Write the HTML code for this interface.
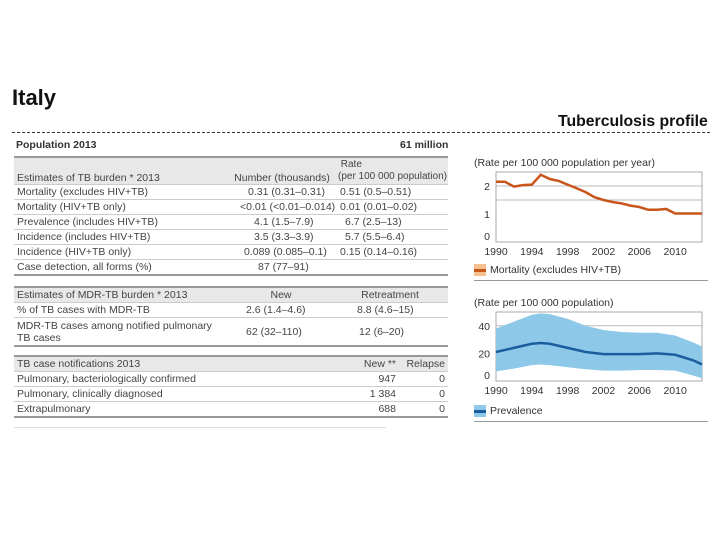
<!DOCTYPE html>
<html><head><meta charset="utf-8"><style>
body{margin:0;width:720px;height:540px;background:#fff;font-family:"Liberation Sans",sans-serif;color:#333;position:relative;overflow:hidden}
.a{position:absolute;white-space:nowrap}
table{position:absolute;border-collapse:collapse;font-size:10.5px;color:#444;table-layout:fixed}
td{padding:0 3px;height:14px;line-height:14px;border-bottom:1px solid #ccc;white-space:nowrap;overflow:visible}
tr.h td{background:#e8e8e8;border-top:2px solid #999}
tr.l td{border-bottom:2px solid #999}
</style></head><body>
<div class="a" style="left:12px;top:85px;font-size:22px;font-weight:bold;color:#111">Italy</div>
<div class="a" style="left:558px;top:113px;font-size:15.8px;font-weight:bold;color:#111">Tuberculosis profile</div>
<div class="a" style="left:12px;top:132px;width:698px;border-top:1px dashed #333"></div>
<div class="a" style="left:16px;top:139px;font-size:10.5px;font-weight:bold">Population 2013</div>
<div class="a" style="left:400px;top:139px;font-size:10.5px;font-weight:bold">61 million</div>

<table style="left:14px;top:156px;width:434px">
<colgroup><col style="width:212px"><col style="width:112px"><col style="width:110px"></colgroup>
<tr class="h"><td style="height:26px;line-height:12px;vertical-align:bottom">Estimates of TB burden * 2013</td><td style="vertical-align:bottom;text-align:center;line-height:12px">Number (thousands)</td><td style="line-height:12px;padding:0;font-size:10px">&nbsp;Rate<br>(per 100 000 population)</td></tr>
<tr><td>Mortality (excludes HIV+TB)</td><td style="padding-left:22px">0.31 (0.31–0.31)</td><td style="padding-left:2px">0.51 (0.5–0.51)</td></tr>
<tr><td>Mortality (HIV+TB only)</td><td style="padding-left:14px">&lt;0.01 (&lt;0.01–0.014)</td><td style="padding-left:2px">0.01 (0.01–0.02)</td></tr>
<tr><td>Prevalence (includes HIV+TB)</td><td style="padding-left:28px">4.1 (1.5–7.9)</td><td style="padding-left:7px">6.7 (2.5–13)</td></tr>
<tr><td>Incidence (includes HIV+TB)</td><td style="padding-left:28px">3.5 (3.3–3.9)</td><td style="padding-left:7px">5.7 (5.5–6.4)</td></tr>
<tr><td>Incidence (HIV+TB only)</td><td style="padding-left:18px">0.089 (0.085–0.1)</td><td style="padding-left:2px">0.15 (0.14–0.16)</td></tr>
<tr class="l"><td>Case detection, all forms (%)</td><td style="padding-left:32px">87 (77–91)</td><td></td></tr>
</table>

<table style="left:14px;top:286px;width:434px">
<colgroup><col style="width:216px"><col style="width:102px"><col style="width:116px"></colgroup>
<tr class="h"><td>Estimates of MDR-TB burden * 2013</td><td style="text-align:center">New</td><td style="text-align:center">Retreatment</td></tr>
<tr><td>% of TB cases with MDR-TB</td><td style="padding-left:16px">2.6 (1.4–4.6)</td><td style="padding-left:25px">8.8 (4.6–15)</td></tr>
<tr class="l"><td style="height:27px;line-height:12px">MDR-TB cases among notified pulmonary<br>TB cases</td><td style="padding-left:16px">62 (32–110)</td><td style="padding-left:27px">12 (6–20)</td></tr>
</table>

<table style="left:14px;top:355px;width:434px">
<colgroup><col style="width:300px"><col style="width:85px"><col style="width:49px"></colgroup>
<tr class="h"><td>TB case notifications 2013</td><td style="text-align:right">New **</td><td style="text-align:right">Relapse</td></tr>
<tr><td>Pulmonary, bacteriologically confirmed</td><td style="text-align:right">947</td><td style="text-align:right">0</td></tr>
<tr><td>Pulmonary, clinically diagnosed</td><td style="text-align:right">1 384</td><td style="text-align:right">0</td></tr>
<tr class="l"><td>Extrapulmonary</td><td style="text-align:right">688</td><td style="text-align:right">0</td></tr>
</table>
<div class="a" style="left:14px;top:427px;width:372px;border-top:1px solid #ddd"></div>

<svg class="a" style="left:0;top:0" width="720" height="540" font-family="Liberation Sans, sans-serif" font-size="10.5" fill="#333">
<g id="c1"></g>
<g id="c2"></g>
</svg>
<script>
const years=[1990,1991,1992,1993,1994,1995,1996,1997,1998,1999,2000,2001,2002,2003,2004,2005,2006,2007,2008,2009,2010,2011,2012,2013];
const mortality=[2.15,2.15,1.98,2.03,2.05,2.4,2.25,2.18,2.05,1.92,1.78,1.6,1.5,1.43,1.38,1.3,1.25,1.15,1.15,1.18,1.02,1.02,1.02,1.02];
const prevYears=[1990,1992,1994,1995,1996,1998,2000,2002,2004,2006,2008,2010,2012,2013];
const prevalence=[21,24,27,27.5,27,24,21,19.5,19.5,19.5,20,19,15,12];
const prevHigh=[38,43,48,49,48.5,45,40,37,35.5,35,35,33,28,25];
const prevLow=[7,9,11.5,12,11.5,10,8.5,7.5,7.5,8,8,7.5,4,2];
const xLabels=[1990,1994,1998,2002,2006,2010];
const mTicks=[0,1,2];const pTicks=[0,20,40];
const NS='http://www.w3.org/2000/svg';
function mk(p,t,a){const e=document.createElementNS(NS,t);for(const k in a)e.setAttribute(k,a[k]);p.appendChild(e);return e;}
const X=y=>496+(y-1990)*(206/23);
function chart(g,top,bottom,max,ticks,grids,title){
  const Y=v=>bottom-v/max*(bottom-top);
  const t=mk(g,'text',{x:474,y:top-6});t.textContent=title;
  
  
  grids.forEach(v=>{const l=mk(g,'line',{x1:496,x2:702,y1:Y(v),y2:Y(v),stroke:'#bbb'});
    
    });
  const b=mk(g,'rect',{x:496,y:top,width:206,height:bottom-top,fill:'none',stroke:'#aaa'});
  
  
  ticks.forEach(v=>{const e=mk(g,'text',{x:490,y:Y(v)+(v===0?-2:4),'text-anchor':'end'});e.textContent=v;
    
    });
  xLabels.forEach(v=>{const e=mk(g,'text',{x:X(v),y:bottom+13,'text-anchor':'middle'});e.textContent=v;
    
    });
  return Y;
}
const g1=document.getElementById('c1');
const Y1=chart(g1,172,242,2.5,mTicks,[1.5,2],'(Rate per 100 000 population per year)');
const ml=mk(g1,'polyline',{points:years.map((y,i)=>X(y)+','+Y1(mortality[i])).join(' '),fill:'none',stroke:'#c8561a','stroke-width':2.5});


const g2=document.getElementById('c2');
const Y2=chart(g2,312,381,50,pTicks,[20,40],'(Rate per 100 000 population)');
const band=mk(g2,'polygon',{points:prevYears.map((y,i)=>X(y)+','+Y2(prevHigh[i])).concat(prevYears.map((y,i)=>X(y)+','+Y2(prevLow[i])).reverse()).join(' '),fill:'#8ec8e8'});


const pl=mk(g2,'polyline',{points:prevYears.map((y,i)=>X(y)+','+Y2(prevalence[i])).join(' '),fill:'none',stroke:'#1a5ea0','stroke-width':2.5});


</script>
<div class="a" style="left:474px;top:262px;font-size:10.5px;width:234px;height:18px;border-bottom:1px solid #999">
<span style="position:absolute;left:0;top:2px;width:12px;height:12px;background:#f4c08e"></span><span style="position:absolute;left:0;top:7px;width:12px;height:3px;background:#c8561a"></span><span style="position:absolute;left:16px;top:2px">Mortality (excludes HIV+TB)</span></div>
<div class="a" style="left:474px;top:403px;font-size:10.5px;width:234px;height:18px;border-bottom:1px solid #999">
<span style="position:absolute;left:0;top:2px;width:12px;height:12px;background:#8ec8e8"></span><span style="position:absolute;left:0;top:7px;width:12px;height:3px;background:#1a5ea0"></span><span style="position:absolute;left:16px;top:2px">Prevalence</span></div>
</body></html>
